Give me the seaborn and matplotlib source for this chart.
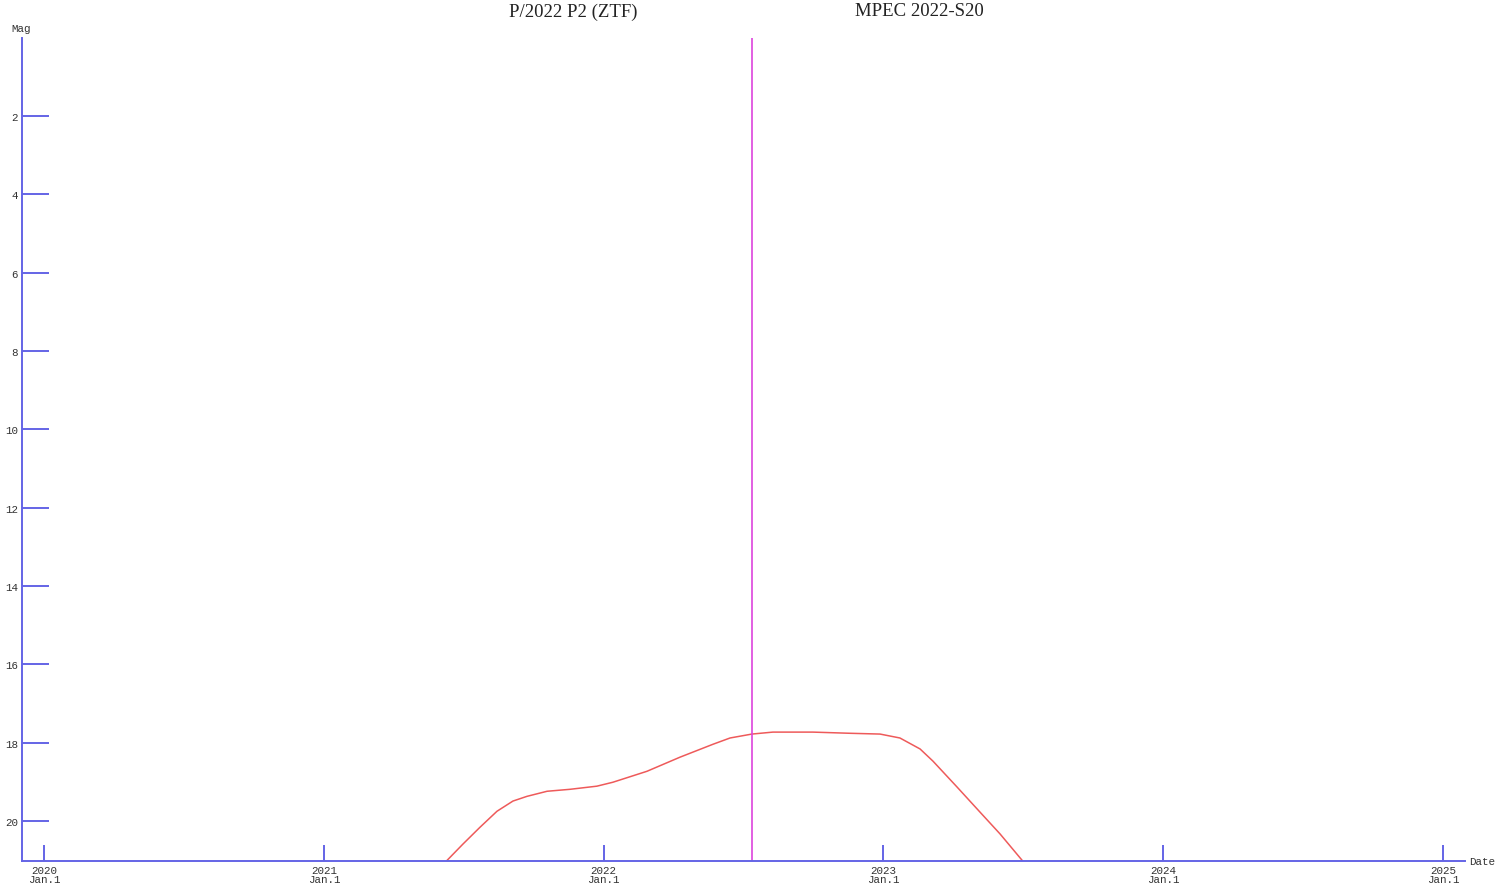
import matplotlib
matplotlib.use("Agg")
import matplotlib.pyplot as plt
import seaborn as sns
import pandas as pd

# Data
years = [2021.437, 2021.497, 2021.558, 2021.619, 2021.676, 2021.726, 2021.798, 2021.880,
         2021.976, 2022.033, 2022.155, 2022.273, 2022.391, 2022.452, 2022.530, 2022.605,
         2022.748, 2022.881, 2022.988, 2023.059, 2023.131, 2023.177, 2023.263, 2023.345,
         2023.417, 2023.499]
mags = [21.03, 20.59, 20.16, 19.75, 19.49, 19.37, 19.24, 19.19,
        19.11, 19.01, 18.73, 18.37, 18.04, 17.88, 17.78, 17.73,
        17.73, 17.76, 17.78, 17.88, 18.16, 18.47, 19.13, 19.77,
        20.33, 21.03]
mpec_date = 2022.53
x_ticks = [2020, 2021, 2022, 2023, 2024, 2025]
x_tick_labels = ["2020\nJan.1", "2021\nJan.1", "2022\nJan.1", "2023\nJan.1", "2024\nJan.1", "2025\nJan.1"]
y_ticks = [2, 4, 6, 8, 10, 12, 14, 16, 18, 20]
title_left = "P/2022 P2 (ZTF)"
title_right = "MPEC 2022-S20"

sns.set_style("white")
plt.rcParams['font.family'] = ['Liberation Mono', 'DejaVu Sans Mono']

W, H = 1500, 895
fig = plt.figure(figsize=(W / 100, H / 100), dpi=100)
ax = fig.add_axes([22 / W, 1 - 862 / H, (1465 - 22) / W, (862 - 38.5) / H])

blue = "#6464e6"
df = pd.DataFrame({"year": years, "mag": mags})
sns.lineplot(data=df, x="year", y="mag", ax=ax, color="#ee5a5a", linewidth=1.1)
ax.axvline(mpec_date, color="#dd44dd", linewidth=1.2)

ax.set_xlim(2020 - 22 / 279.8, 2020 + (1465 - 44) / 279.8)
ax.set_ylim(21.02, 0)

for s in ["top", "right"]:
    ax.spines[s].set_visible(False)
for s in ["left", "bottom"]:
    ax.spines[s].set_color(blue)
    ax.spines[s].set_linewidth(1.4)

ax.set_xticks(x_ticks)
ax.set_xticklabels(x_tick_labels, fontsize=7.8, color="#333333", linespacing=0.9)
ax.set_yticks(y_ticks)
ax.set_yticklabels([str(v) for v in y_ticks], fontsize=7.8, color="#333333")
ax.tick_params(axis="x", which="major", bottom=True, direction="in", length=11.5, width=1.4,
               color=blue, pad=3)
ax.tick_params(axis="y", which="major", left=True, direction="in", length=19.5, width=1.4,
               color=blue, pad=3)
ax.set_xlabel("")
ax.set_ylabel("")
ax.grid(False)

fig.text(21 / W, 1 - 29 / H, "Mag", fontsize=7.8, color="#333333", ha="center", va="center")
fig.text(1469 / W, 1 - 862 / H, "Date", fontsize=7.8, color="#333333", ha="left", va="center")
fig.text(573 / W, 1 - 12 / H, title_left, fontsize=13.5, family="Liberation Serif",
         ha="center", va="center", color="#222222")
fig.text(919 / W, 1 - 12 / H, title_right, fontsize=13.5, family="Liberation Serif",
         ha="center", va="center", color="#222222")

fig.savefig("out.png", dpi=100, facecolor="white")
